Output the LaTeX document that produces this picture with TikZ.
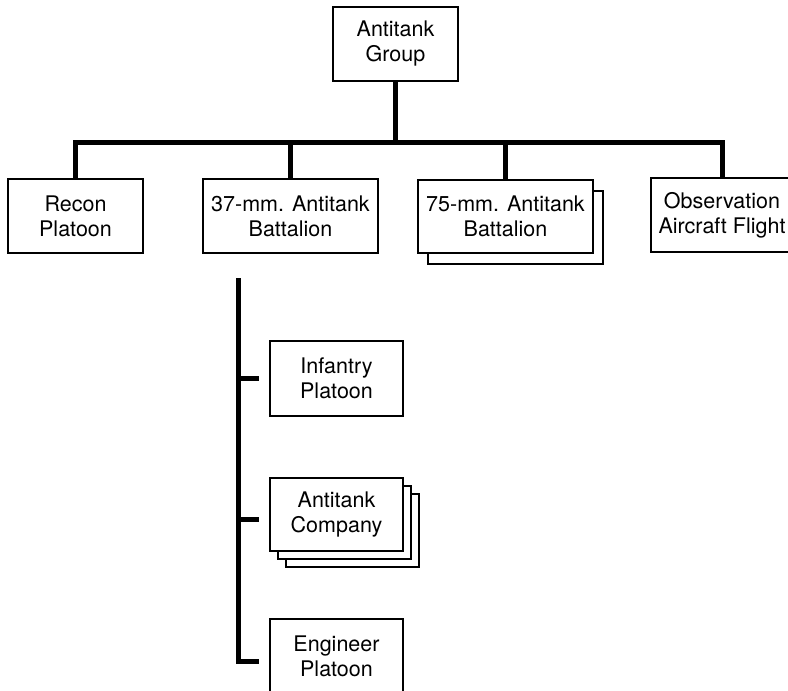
\documentclass[tikz,border=0pt]{standalone}
\usepackage{fontspec}
\setmainfont{TeX Gyre Heros}
\begin{document}
\begin{tikzpicture}[x=1pt,y=-1pt,
  unit/.style={draw=black,fill=white,line width=2pt,rectangle,inner sep=0pt,
    align=center,font=\fontsize{21.5}{25}\selectfont},
  shadowbox/.style={draw=black,fill=white,line width=2pt,rectangle,inner sep=0pt},
  bar/.style={draw=black,line width=5pt,line join=miter,line cap=butt}]
\useasboundingbox (0,0) rectangle (788,691);
\clip (0,0) rectangle (788,691);
% top
\node[unit,minimum width=125pt,minimum height=74pt] (top) at (395.5,44) {Antitank\\Group};
% second row
\node[unit,minimum width=135pt,minimum height=74pt] (recon) at (75.5,216) {Recon\\Platoon};
\node[unit,minimum width=175pt,minimum height=74pt] (b37) at (290.5,216) {37-mm. Antitank\\Battalion};
\node[shadowbox,minimum width=175pt,minimum height=73pt] (b75s) at (515.5,227.5) {};
\node[unit,minimum width=175pt,minimum height=73pt] (b75) at (505.5,216.5) {75-mm. Antitank\\Battalion};
\node[unit,minimum width=142pt,minimum height=74pt] (obs) at (722,215) {Observation\\Aircraft Flight};
% third column
\node[unit,minimum width=133pt,minimum height=75pt] (inf) at (336.5,378.5) {Infantry\\Platoon};
\node[shadowbox,minimum width=133pt,minimum height=73pt] (atcs2) at (352.5,530.5) {};
\node[shadowbox,minimum width=133pt,minimum height=73pt] (atcs1) at (344.5,522.5) {};
\node[unit,minimum width=133pt,minimum height=73pt] (atc) at (336.5,514.5) {Antitank\\Company};
\node[unit,minimum width=133pt,minimum height=75pt] (eng) at (336.5,656.5) {Engineer\\Platoon};
% connectors top
\coordinate (hb) at (395.5,142);
\draw[bar] (recon.north) |- (obs.north |- hb) -- (obs.north);
\draw[bar] (top.south) -- (top.south |- hb);
\draw[bar] (b37.north) -- (b37.north |- hb);
\draw[bar] (b75.north) -- (b75.north |- hb);
% vertical bar
\coordinate (vt) at (238.5,278);
\coordinate (vb) at (238.5,661);
\draw[bar] (vt) -- (vb) -- ([xshift=-10pt]eng.west |- vb);
\draw[bar] (vt |- inf.west) -- ([xshift=-10pt]inf.west);
\draw[bar] ([yshift=-4.5pt]vt |- atc.west) -- ([xshift=-10pt,yshift=-4.5pt]atc.west);
\end{tikzpicture}
\end{document}
